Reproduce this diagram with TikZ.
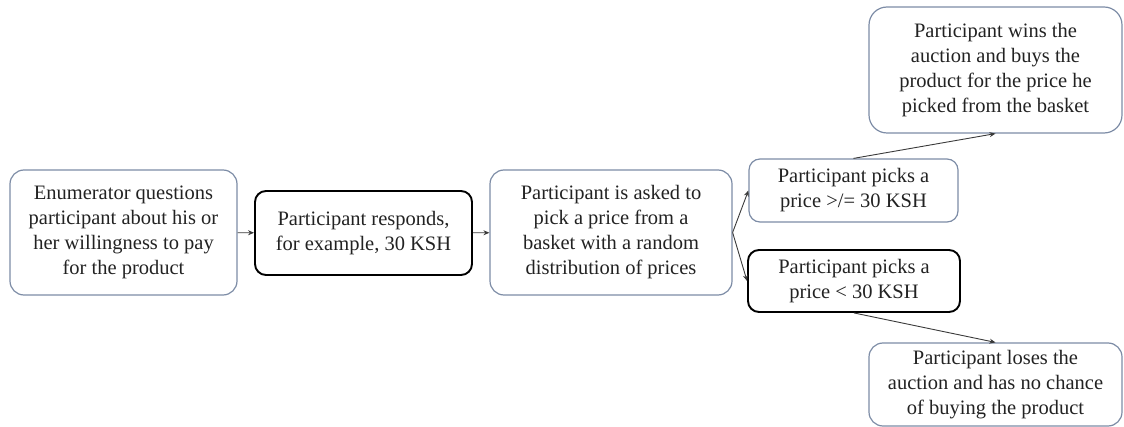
\documentclass[tikz,border=0pt]{standalone}
\usepackage{fontspec}
\newfontfamily\timesfont{LiberationSerif-Regular.ttf}
\usetikzlibrary{arrows.meta}
\definecolor{edgeblue}{HTML}{7D8CA6}
\definecolor{ink}{HTML}{222222}
\definecolor{wire}{HTML}{3A3A3A}
\tikzset{
  x=1pt, y=-1pt,
  box/.style={draw=edgeblue, line width=1.2pt, rounded corners=14pt, align=center,
    text=ink, inner sep=0pt, font=\timesfont\fontsize{20.5}{25}\selectfont},
  keybox/.style={box, draw=black, line width=1.9pt, rounded corners=11pt},
  link/.style={draw=wire, line width=0.9pt, -{Stealth[length=6pt,width=5pt]}}
}
\begin{document}
\begin{tikzpicture}
\useasboundingbox (0,0) rectangle (1124,427);
\node[box, minimum width=227pt, minimum height=125pt] (b1) at (123.5,232.5)
  {Enumerator questions\\participant about his or\\her willingness to pay\\for the product};
\node[keybox, minimum width=217pt, minimum height=84pt] (b2) at (363.5,233)
  {Participant responds,\\for example, 30 KSH};
\node[box, minimum width=242pt, minimum height=125pt] (b3) at (611,232.5)
  {Participant is asked to\\pick a price from a\\basket with a random\\distribution of prices};
\node[box, rounded corners=11pt, minimum width=209pt, minimum height=63pt] (b4) at (853.5,190.5)
  {Participant picks a\\price >/= 30 KSH};
\node[keybox, minimum width=212pt, minimum height=62pt] (b5) at (854,281)
  {Participant picks a\\price < 30 KSH};
\node[box, rounded corners=18pt, minimum width=253pt, minimum height=126pt] (b6) at (995.5,70)
  {Participant wins the\\auction and buys the\\product for the price he\\picked from the basket};
\node[box, rounded corners=14pt, minimum width=253pt, minimum height=83pt] (b7) at (995.5,384.5)
  {Participant loses the\\auction and has no chance\\of buying the product};
\draw[link] (b1) -- (b2);
\draw[link] (b2) -- (b3);
\draw[link] (b3.east) -- (b4.west);
\draw[link] (b3.east) -- (b5.west);
\draw[link] (b4.north) -- (b6.south);
\draw[link] (b5.south) -- (b7.north);
\end{tikzpicture}
\end{document}
